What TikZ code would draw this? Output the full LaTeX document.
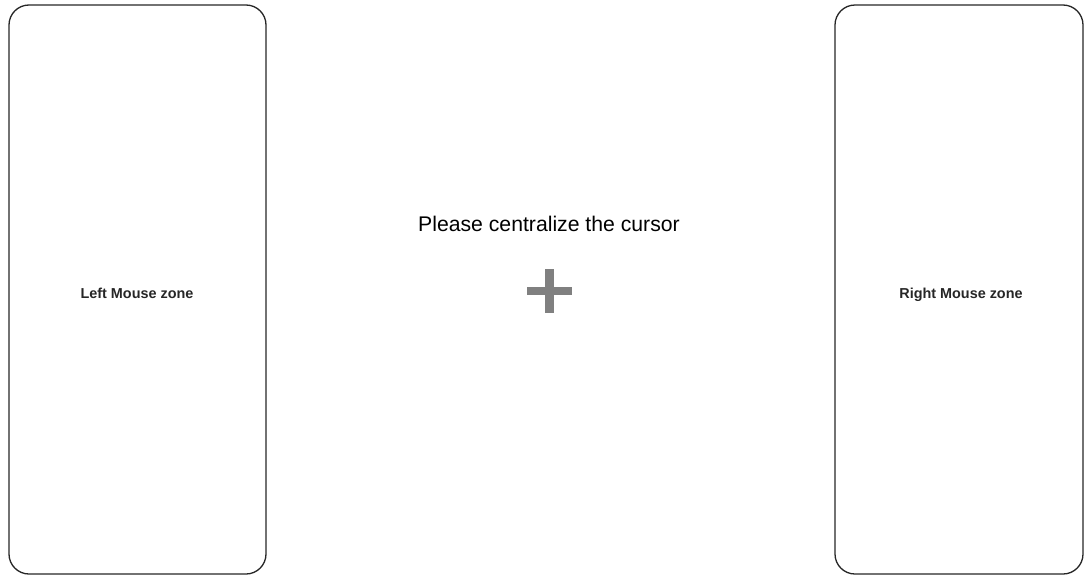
\documentclass[tikz,border=0pt]{standalone}
\usepackage{fontspec}
\setmainfont{Liberation Sans}
\begin{document}
\begin{tikzpicture}[x=1pt,y=-1pt,
  zone/.style={draw=black!85, line width=1.3pt, rounded corners=20pt},
  zonelabel/.style={font=\bfseries\fontsize{14.4}{17}\selectfont, text=black!85, anchor=base},
  crossbar/.style={fill=black!50, draw=none}]
\useasboundingbox (0,0) rectangle (1085,576);
\draw[zone] (9,5) rectangle (266,574);
\draw[zone] (835,5) rectangle (1083,574);
\node[zonelabel] (leftlbl) at (137,298) {Left Mouse zone};
\node[zonelabel] (rightlbl) at (961,298) {Right Mouse zone};
\node[font=\fontsize{21.2}{25}\selectfont] (title) at (549,224) {Please centralize the cursor};
\fill[crossbar] (527,287) rectangle (572,295);
\fill[crossbar] (545,269) rectangle (554,313);
\end{tikzpicture}
\end{document}
